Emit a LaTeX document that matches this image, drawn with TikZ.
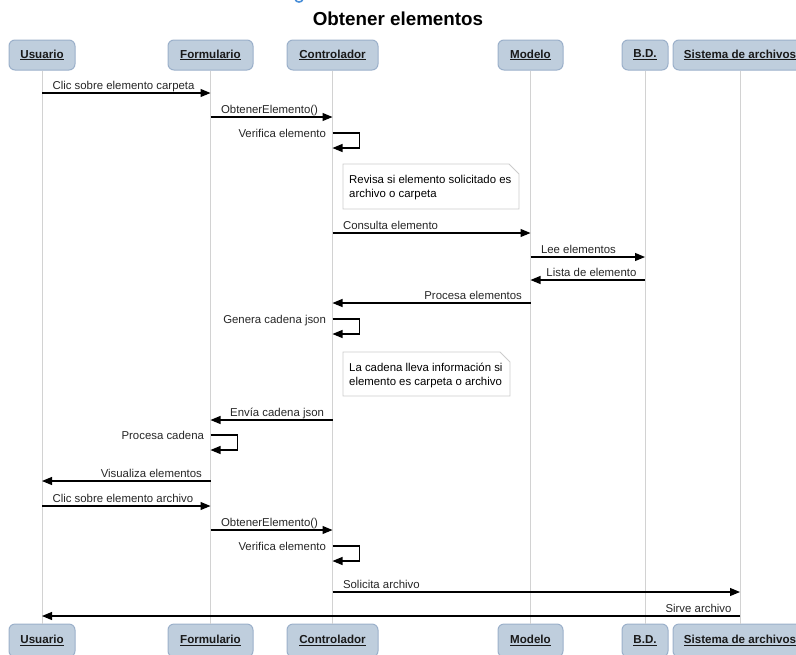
\documentclass[tikz,border=0pt]{standalone}
\usepackage{fontspec}
\setmainfont{Liberation Sans}
\usetikzlibrary{arrows.meta}
\definecolor{headfill}{HTML}{BFCEDD}
\definecolor{headdraw}{HTML}{9BB0CA}
\definecolor{lifegray}{HTML}{D2D2D2}
\definecolor{notedraw}{HTML}{CCCCCC}
\definecolor{titleblue}{HTML}{4A8FD8}

\begin{document}
\begin{tikzpicture}[x=1pt,y=-1pt,
  head/.style={draw=headdraw, fill=headfill, line width=1pt, rounded corners=6pt,
    minimum height=30pt, inner sep=0pt, font=\fontsize{11.6}{14}\selectfont\bfseries, text=black!90},
  foot/.style={head, minimum height=33pt},
  lifeline/.style={draw=lifegray, line width=0.9pt},
  msg/.style={draw=black, line width=1.1pt, -{Triangle[length=10pt,width=8pt]}},
  lbl/.style={font=\fontsize{11.4}{14}\selectfont, text=black!85, inner sep=0pt},
  fwd/.style={lbl, pos=0, anchor=base west, xshift=10pt, yshift=4pt},
  back/.style={lbl, pos=0, anchor=base east, xshift=-8pt, yshift=4pt},
  self/.style={lbl, pos=0, anchor=base east, xshift=-6pt, yshift=-4pt},
  notebox/.style={draw=notedraw, fill=white, line width=0.8pt},
  notetext/.style={lbl, anchor=base west, text=black},
]
\useasboundingbox (0,0) rectangle (796,654);

% descender of a heading line above the title
\draw[titleblue, line width=1.6pt] (295,-1) .. controls (296,3) and (302,3) .. (303,-1);

% title
\node[anchor=base, font=\fontsize{18.8}{22}\selectfont\bfseries] (title) at (398,25) {Obtener elementos};

% participants, top
\node[head, minimum width=66pt]  (uT) at (42,55)    {\underline{Usuario}};
\node[head, minimum width=85pt]  (fT) at (210.5,55) {\underline{Formulario}};
\node[head, minimum width=91pt]  (cT) at (332.5,55) {\underline{Controlador}};
\node[head, minimum width=65pt]  (mT) at (530.5,55) {\underline{Modelo}};
\node[head, minimum width=46pt]  (bT) at (645,55)   {\underline{B.D.}};
\node[head, minimum width=134pt] (sT) at (740,55)   {\underline{Sistema de archivos}};

% participants, bottom (running off the lower edge)
\node[foot, minimum width=66pt]  (uB) at (42,640.5)    {\underline{Usuario}};
\node[foot, minimum width=85pt]  (fB) at (210.5,640.5) {\underline{Formulario}};
\node[foot, minimum width=91pt]  (cB) at (332.5,640.5) {\underline{Controlador}};
\node[foot, minimum width=65pt]  (mB) at (530.5,640.5) {\underline{Modelo}};
\node[foot, minimum width=46pt]  (bB) at (645,640.5)   {\underline{B.D.}};
\node[foot, minimum width=134pt] (sB) at (740,640.5)   {\underline{Sistema de archivos}};

% lifelines
\foreach \p in {u,f,c,m,b,s}
  \draw[lifeline] (\p T.south) -- (\p B.north);

% notes
\draw[notebox] (343,164) -- (509,164) -- (519,174) -- (519,209) -- (343,209) -- cycle;
\node[notetext] (n1a) at (349,183) {Revisa si elemento solicitado es};
\node[notetext] (n1b) at (349,197) {archivo o carpeta};

\draw[notebox] (343,352) -- (500,352) -- (510,362) -- (510,396) -- (343,396) -- cycle;
\node[notetext] (n2a) at (349,371) {La cadena lleva información si};
\node[notetext] (n2b) at (349,385) {elemento es carpeta o archivo};

% messages
\draw[msg] (uT |- 0,93)  -- node[fwd]  {Clic sobre elemento carpeta} (fT |- 0,93);
\draw[msg] (fT |- 0,117) -- node[fwd]  {ObtenerElemento()} (cT |- 0,117);
\draw[msg] (cT |- 0,133) -- node[self] {Verifica elemento} ++(27,0) -- ++(0,15) -- (cT |- 0,148);
\draw[msg] (cT |- 0,233) -- node[fwd]  {Consulta elemento} (mT |- 0,233);
\draw[msg] (mT |- 0,257) -- node[fwd]  {Lee elementos} (bT |- 0,257);
\draw[msg] (bT |- 0,280) -- node[back] {Lista de elemento} (mT |- 0,280);
\draw[msg] (mT |- 0,303) -- node[back] {Procesa elementos} (cT |- 0,303);
\draw[msg] (cT |- 0,319) -- node[self] {Genera cadena json} ++(27,0) -- ++(0,15) -- (cT |- 0,334);
\draw[msg] (cT |- 0,420) -- node[back] {Envía cadena json} (fT |- 0,420);
\draw[msg] (fT |- 0,435) -- node[self] {Procesa cadena} ++(27,0) -- ++(0,15) -- (fT |- 0,450);
\draw[msg] (fT |- 0,481) -- node[back] {Visualiza elementos} (uT |- 0,481);
\draw[msg] (uT |- 0,506) -- node[fwd]  {Clic sobre elemento archivo} (fT |- 0,506);
\draw[msg] (fT |- 0,530) -- node[fwd]  {ObtenerElemento()} (cT |- 0,530);
\draw[msg] (cT |- 0,546) -- node[self] {Verifica elemento} ++(27,0) -- ++(0,15) -- (cT |- 0,561);
\draw[msg] (cT |- 0,592) -- node[fwd]  {Solicita archivo} (sT |- 0,592);
\draw[msg] (sT |- 0,616) -- node[back] {Sirve archivo} (uT |- 0,616);
\end{tikzpicture}
\end{document}
